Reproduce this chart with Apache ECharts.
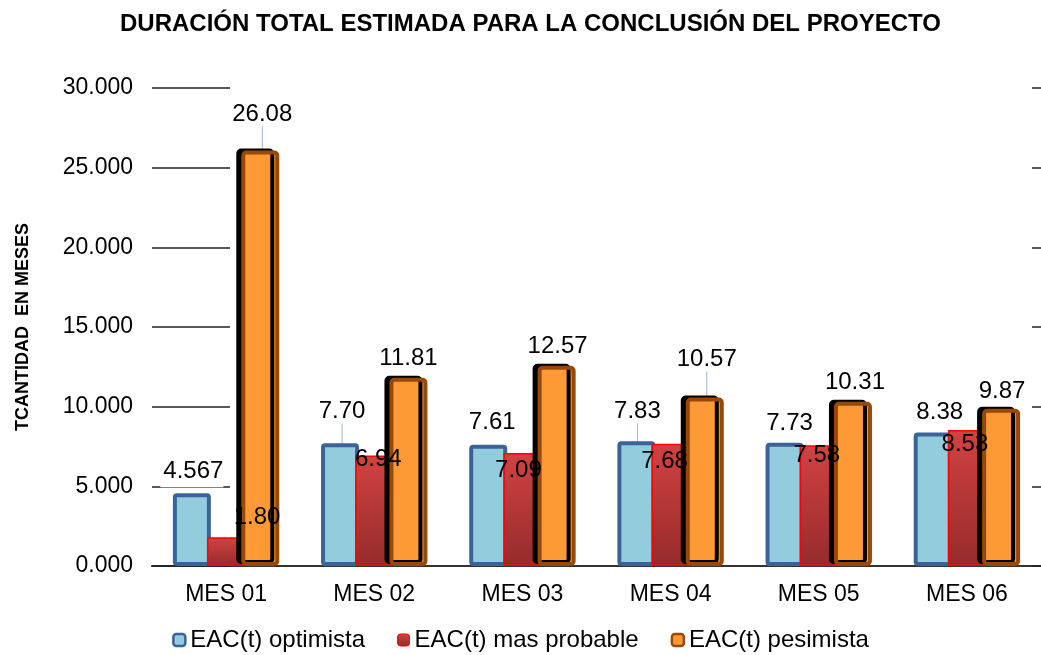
<!DOCTYPE html>
<html>
<head>
    <meta charset="UTF-8">
    <title>Duración total estimada</title>
    <script src="https://cdn.jsdelivr.net/npm/echarts@6/dist/echarts.min.js"></script>
</head>
<body style="margin:0;background:#fff;">
    <div id="main" style="width:1041px;height:655px;"></div>
    <script type="text/javascript">
        // datos
        var meses = ['MES 01', 'MES 02', 'MES 03', 'MES 04', 'MES 05', 'MES 06'];
        var optimista = [4.567, 7.70, 7.61, 7.83, 7.73, 8.38];
        var masProbable = [1.80, 6.94, 7.09, 7.68, 7.58, 8.53];
        var pesimista = [26.08, 11.81, 12.57, 10.57, 10.31, 9.87];
        var ticksY = [0, 5, 10, 15, 20, 25, 30];

        // desplazamientos de etiquetas (como en el original de Excel)
        var despl = [
            [[0, -4], [2, -18], [4, -8], [1, -16], [5, -5], [7, -6]],
            [[31, -6], [4, 18], [-4, 31], [-6, 32], [-2, 24], [-2, 28]],
            [[2, -22], [0, -5], [1, -5], [2, -24], [2, -5], [1, -3]]
        ];
        var conGuia = [[false, true, false, true, false, false],
                       [false, false, false, false, false, false],
                       [true, false, false, true, false, false]];

        var myChart = echarts.init(document.getElementById('main'));

        function datos(valores, s) {
            return valores.map(function (v, i) {
                var lab = { formatter: v.toFixed(2) };
                if (s === 0 && i === 0) {
                    // la etiqueta 4.567 tapa la marca del eje
                    lab = { formatter: '4.567', backgroundColor: '#fff', padding: [0, 0, 4, 3] };
                }
                return {
                    value: v,
                    label: lab,
                    labelLine: { show: conGuia[s][i], lineStyle: { color: '#95b3d7', width: 1 } }
                };
            });
        }

        var etiqueta = { show: true, position: 'top', distance: 2, color: '#000', fontSize: 24, fontFamily: 'Liberation Sans' };

        var option = {
            animation: false,
            textStyle: { fontFamily: 'Liberation Sans' },
            title: {
                text: 'DURACIÓN TOTAL ESTIMADA PARA LA CONCLUSIÓN DEL PROYECTO',
                left: 115,
                top: 7,
                textStyle: { fontSize: 24, fontWeight: 'bold', color: '#000', fontFamily: 'Liberation Sans' }
            },
            legend: {
                top: 623,
                left: 'center',
                itemWidth: 12,
                itemHeight: 12,
                itemGap: 32,
                textStyle: { fontSize: 24, color: '#000' },
                data: [
                    { name: 'EAC(t) optimista', itemStyle: { borderWidth: 2.5 } },
                    { name: 'EAC(t) mas probable', itemStyle: { borderWidth: 1 } },
                    { name: 'EAC(t) pesimista', itemStyle: { borderWidth: 2.5, shadowBlur: 0, shadowOffsetX: 0, shadowOffsetY: 0 } }
                ]
            },
            grid: { left: 152, right: 0, top: 88, bottom: 89 },
            xAxis: [{
                type: 'category',
                data: meses,
                axisLine: { lineStyle: { color: '#000', width: 1 } },
                axisTick: { show: false },
                axisLabel: { fontSize: 23, color: '#000', margin: 17 }
            }, {
                type: 'category',
                position: 'top',
                data: meses,
                axisLine: { show: true, lineStyle: { color: '#333', width: 2 } },
                axisTick: { show: false },
                axisLabel: { show: false }
            }],
            yAxis: [{
                type: 'value',
                min: ticksY[0],
                max: ticksY[ticksY.length - 1],
                interval: 5,
                name: 'TCANTIDAD  EN MESES',
                nameLocation: 'middle',
                nameRotate: 90,
                nameGap: 120,
                nameTextStyle: { fontSize: 18, fontWeight: 'bold', color: '#000' },
                axisLine: { show: false },
                axisTick: { show: true, inside: true, length: 78, lineStyle: { color: '#222', width: 1.5 } },
                splitLine: { show: false },
                axisLabel: {
                    fontSize: 23, color: '#000', margin: 19,
                    formatter: function (v) { return v.toFixed(3); }
                }
            }, {
                type: 'value',
                position: 'right',
                min: ticksY[0],
                max: ticksY[ticksY.length - 1],
                interval: 5,
                axisLine: { show: false },
                axisTick: { show: true, inside: true, length: 9, lineStyle: { color: '#222', width: 1.5 } },
                splitLine: { show: false },
                axisLabel: { show: false }
            }],
            series: [{
                name: 'EAC(t) optimista',
                type: 'bar',
                barWidth: 38,
                barGap: '-10%',
                data: datos(optimista, 0),
                itemStyle: { color: '#93cddd', borderColor: '#3b6397', borderWidth: 4, borderRadius: 2 },
                label: etiqueta,
                labelLayout: function (p) { return { dx: despl[0][p.dataIndex][0], dy: despl[0][p.dataIndex][1] }; }
            }, {
                name: 'EAC(t) mas probable',
                type: 'bar',
                barWidth: 38,
                barGap: '-10%',
                data: datos(masProbable, 1),
                itemStyle: {
                    color: new echarts.graphic.LinearGradient(0, 0, 0, 1, [
                        { offset: 0, color: '#d24242' },
                        { offset: 1, color: '#962b2b' }
                    ]),
                    borderColor: '#ff0000',
                    borderWidth: 1.5
                },
                label: etiqueta,
                labelLayout: function (p) { return { dx: despl[1][p.dataIndex][0], dy: despl[1][p.dataIndex][1] }; }
            }, {
                name: 'EAC(t) pesimista',
                type: 'bar',
                barWidth: 38,
                barGap: '-10%',
                data: datos(pesimista, 2),
                itemStyle: {
                    color: '#fe9a35', borderColor: '#984807', borderWidth: 4, borderRadius: 3,
                    shadowColor: '#000', shadowBlur: 0, shadowOffsetX: -5, shadowOffsetY: -2
                },
                label: etiqueta,
                labelLayout: function (p) { return { dx: despl[2][p.dataIndex][0], dy: despl[2][p.dataIndex][1] }; }
            }]
        };

        myChart.setOption(option);
    </script>
</body>
</html>
